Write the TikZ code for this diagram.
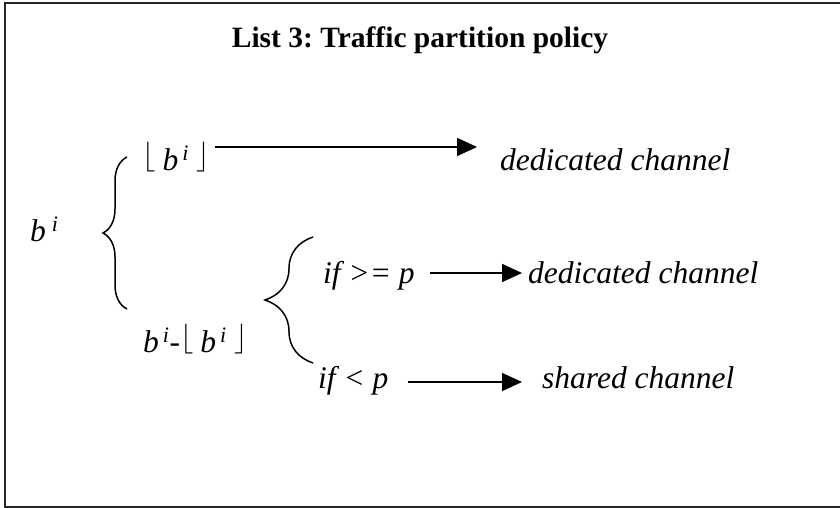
\documentclass[tikz,border=0pt]{standalone}
\usepackage{graphicx}
\usepackage{fontspec}
\setmainfont{Liberation Serif}
\usetikzlibrary{arrows.meta,decorations.pathreplacing}

\tikzset{
  lbl/.style={font=\itshape\fontsize{31.5}{36}\selectfont,anchor=base west,inner sep=0pt},
  ttl/.style={font=\bfseries\fontsize{29.5}{34}\selectfont,anchor=base,inner sep=0pt},
  arr/.style={-{Triangle[length=20pt,width=18pt]},line width=1.6pt},
  brc/.style={decorate,decoration={brace,amplitude=#1},line width=1.5pt},
}
\newcommand{\bkt}[1]{\raisebox{-2pt}{\resizebox{!}{30pt}{\raisebox{\depth}{$#1$}}}}
\newcommand{\flr}[1]{\bkt{\lfloor}\hspace{7pt}#1\hspace{8pt}\bkt{\rfloor}}

\begin{document}
\frenchspacing
\begin{tikzpicture}[x=1pt,y=-1pt]
  \useasboundingbox (0,0) rectangle (840,508);
  \draw[line width=1.5pt,black!85] (840,3) -- (5,3) -- (5,507) -- (840,507);

  \node[ttl] (title) at (420,48) {List 3: Traffic partition policy};

  \node[lbl] (bi) at (30,241) {b\hspace{6pt}\textsuperscript{i}};
  \node[lbl] (whole) at (142,170) {\flr{b\hspace{4pt}\textsuperscript{i}}};
  \node[lbl] (ded1) at (500,170) {dedicated channel};
  \node[lbl] (rest) at (143,352) {b\hspace{4pt}\textsuperscript{i}\textup{-}\flr{b\hspace{4pt}\textsuperscript{i}}};
  \node[lbl] (ifge) at (323,283) {if >= p};
  \node[lbl] (ded2) at (528,283) {dedicated channel};
  \node[lbl] (iflt) at (318,388) {if < p};
  \node[lbl] (shared) at (542,388) {shared channel};

  % braces
  \coordinate (b1s) at (127,309);
  \coordinate (b1e) at (127,157);
  \draw[brc=24pt] (b1s) -- (b1e);
  \coordinate (b2s) at (313,363);
  \coordinate (b2e) at (313,237);
  \draw[brc=48pt] (b2s) -- (b2e);

  % arrows
  \draw[arr] ([xshift=5pt,yshift=23pt]whole.base east) -- ([xshift=-23pt,yshift=23pt]ded1.base west);
  \draw[arr] ([xshift=15pt,yshift=10pt]ifge.base east) -- ([xshift=-6pt,yshift=10pt]ded2.base west);
  \draw[arr] ([xshift=19pt,yshift=6pt]iflt.base east) -- ([xshift=-20pt,yshift=6pt]shared.base west);
\end{tikzpicture}
\end{document}
